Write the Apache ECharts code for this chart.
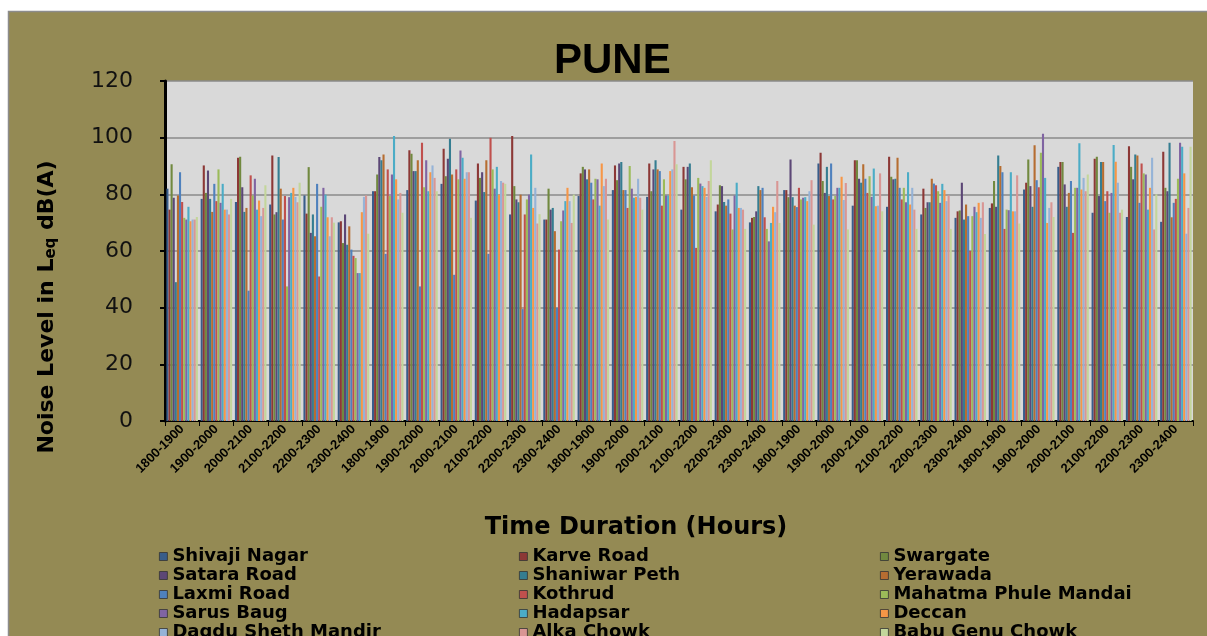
<!DOCTYPE html>
<html><head><meta charset="utf-8">
<script src="https://cdn.jsdelivr.net/npm/echarts@6/dist/echarts.min.js"></script>
<style>html,body{margin:0;padding:0;background:#fff}#c{width:1207px;height:636px}</style>
</head><body><div id="c"></div>
<script>
const timeSlots = ['1800-1900','1900-2000','2000-2100','2100-2200','2200-2300','2300-2400'];
const categories = [].concat(timeSlots, timeSlots, timeSlots, timeSlots, timeSlots);

const seriesNames = ['Shivaji Nagar','Karve Road','Swargate','Satara Road','Shaniwar Peth','Yerawada','Laxmi Road','Kothrud','Mahatma Phule Mandai','Sarus Baug','Hadapsar','Deccan','Dagdu Sheth Mandir','Alka Chowk','Babu Genu Chowk'];
const seriesColors = ['#385D8A','#8C3836','#71893F','#5C4776','#357D91','#B66D31','#4F81BD','#C0504D','#9BBB59','#8064A2','#4BACC6','#F79646','#95B3D7','#D99694','#C3D69B'];

const shivajiNagar = [82,78.4,77.3,76.4,79.6,70.1,81.1,81.5,83.7,77.8,72.9,71.1,79.4,81.5,79.1,74.6,74,70.1,81.5,90.9,76,75.6,72.9,71.7,75.2,81.7,89.7,73.5,72,70.3];
const karveRoad = [74.6,90.2,92.9,93.7,73.2,70.5,81.1,95.6,96.1,90.9,100.6,71.1,87.4,90.2,90.9,89.7,76.4,71.7,81.5,94.7,92,93.3,82,74,76.8,84.1,91.4,92.6,97,95];
const swargate = [90.6,80.5,93.3,72.9,89.6,62.8,87,94.3,86.4,85.8,82.9,82,89.7,85,81.1,85.3,83.2,72,79,84.7,92,86.2,75.2,74.3,84.7,92.3,91.4,93.3,89.7,82.3];
const sataraRoad = [78.8,88.4,82.5,73.7,66.4,72.9,93.2,88.2,92.6,87.8,78.2,74.6,88.8,90.9,88.8,89.7,82.9,74,92.3,80.5,85.5,85.3,77.2,84.1,75.6,82.9,83.5,79.4,85.3,81.1];
const shaniwarPeth = [49,78.4,73.8,93.2,72.9,62.2,92,88.2,99.6,80.8,77.2,75.2,85.3,91.4,92,90.9,77.3,82.9,79,89.7,84.1,85.5,77.2,71.1,93.7,75.6,75.6,91.4,94.1,98.2];
const yerawada = [79.6,73.8,75.2,82,65.2,68.7,94.1,92,87,92,79.9,67,88.8,81.5,88.8,82.5,76,81.5,76,79.4,90.6,92.9,85.5,76.4,90,97.3,80.5,91.4,93.7,71.9];
const laxmiRoad = [87.8,83.7,46,71.1,83.7,60.5,59,47.5,51.6,59,39.5,40,84.1,81.5,88.2,79.6,78.2,82.3,75.5,90.9,85.5,82.3,83.8,72.3,87.8,85,84.7,77.6,77,77];
const kothrud = [77.3,77.6,86.7,79.4,51,58.3,88.8,98.2,88.8,100,72.9,60.5,78.2,75.2,76,61.1,73.2,71.9,82.3,78.2,80.5,78.2,83.2,60,67.8,82.5,66.4,81.1,90.9,78.4];
const mahatmaPhuleMandai = [71.7,88.8,79.6,47.5,75.6,57.5,79.4,82.5,85.3,88.8,78.2,70.5,85.5,90,85.3,85.8,67.6,67.8,78.2,79.4,86.4,82.3,81.1,72.3,74.6,94.7,82.3,73.5,87.4,85.5];
const sarusBaug = [71.1,77,85.5,79,82.3,52.2,87,92,95.5,82,79.9,74.3,85.3,82,79.6,83.8,79.6,63.4,78.8,82.3,79.1,77.2,77,75.6,74.4,101.4,82.3,80.5,87,98.2];
const hadapsar = [75.6,83.7,74.6,80.5,79.9,52.2,100.6,81.1,92.9,89.7,94.1,77.6,76,78.8,79.6,82.9,84.1,69.9,79,82.3,89.1,87.8,83.7,73.7,87.8,85.8,98,97.4,74.6,96.8];
const deccan = [70.5,74.6,77.8,82.3,71.9,73.7,85.3,87.8,85.5,79.9,75.2,82.3,90.9,79.1,88.2,82.3,75.2,75.6,77.6,86.2,75.8,76.4,81.5,77,74,69.9,81.7,91.5,82.3,87.4];
const dagduShethMandir = [71.1,74.6,72.3,79.1,65.2,79.1,78.2,90.2,87.8,84.7,82.3,77.6,82.9,85.5,88.8,79.1,75.2,73.7,81.1,78,76,82.3,77.6,71.7,74,75.2,85.8,84.1,92.9,66.1];
const alkaChowk = [71.1,72.9,75.2,77.2,71.9,79.6,80.5,85.8,87.8,84.1,69.7,69.9,85.5,78.8,98.8,84.7,74.6,84.7,85,84,87.4,74.6,79.6,77.2,86.7,77.2,81.1,73.5,67.6,75.2];
const babuGenuChowk = [72,78.4,83.2,84.1,70,66.1,73.5,81.1,71.7,83.7,73,79.9,71.1,74.6,90.6,92,67.8,69.9,69.3,67.6,74,67.8,67.8,66,69.7,72,87,74.6,80,96.8];

const seriesValues = [shivajiNagar,karveRoad,swargate,sataraRoad,shaniwarPeth,yerawada,laxmiRoad,kothrud,mahatmaPhuleMandai,sarusBaug,hadapsar,deccan,dagduShethMandir,alkaChowk,babuGenuChowk];

const chart = echarts.init(document.getElementById('c'), null, {renderer:'canvas'});

const legendCol = (k, left) => ({
  orient: 'vertical', left: left, top: 547, height: 140, padding: 0, itemGap: 0,
  itemWidth: 8, itemHeight: 8, itemTextGap: 8, icon: 'rect',
  data: seriesNames.filter((n, i) => i % 3 === k),
  itemStyle: {borderColor: '#333', borderWidth: 0.8},
  textStyle: {fontFamily: 'DejaVu Sans', fontWeight: 'bold', fontSize: 18, color: '#000', lineHeight: 19}
});

const option = {
  animation: false,
  backgroundColor: '#948A54',
  title: [{
    text: 'PUNE', left: 554, top: 40, padding: 0,
    textStyle: {fontFamily: 'Liberation Sans', fontWeight: 'bold', fontSize: 42, color: '#000'}
  }],
  legend: [legendCol(0, 159), legendCol(1, 519), legendCol(2, 880)],
  grid: {left: 165, right: 14, top: 81, bottom: 215, show: true, backgroundColor: '#D9D9D9', borderWidth: 0},
  xAxis: {
    type: 'category', data: categories,
    name: 'Time Duration (Hours)', nameLocation: 'middle', nameGap: 95,
    nameTextStyle: {fontFamily: 'DejaVu Sans', fontWeight: 'bold', fontSize: 24, color: '#000', padding: [0, 86, 0, 0]},
    axisLine: {lineStyle: {color: '#000', width: 2}},
    axisTick: {show: true, length: 5, interval: 0, lineStyle: {color: '#000'}},
    axisLabel: {interval: 0, rotate: 45, margin: 6, fontFamily: 'Liberation Sans', fontWeight: 'bold', fontSize: 13, color: '#000'}
  },
  yAxis: {
    type: 'value', min: 0, max: 120, interval: 20,
    name: 'Noise Level in {b|L}{sub|eq}{b| dB(A)}', nameLocation: 'middle', nameRotate: 90, nameGap: 106,
    nameTextStyle: {fontFamily: 'DejaVu Sans', fontWeight: 'bold', fontSize: 22, color: '#000', lineHeight: 24,
      padding: [0, 112, 0, 0],
      rich: {
        b: {fontFamily: 'DejaVu Sans', fontWeight: 'bold', fontSize: 22, color: '#000', lineHeight: 24},
        sub: {fontFamily: 'DejaVu Sans', fontWeight: 'bold', fontSize: 15, color: '#000', lineHeight: 12, verticalAlign: 'bottom'}
      }},
    axisLine: {show: true, lineStyle: {color: '#000', width: 3}},
    axisTick: {show: true, length: 5, lineStyle: {color: '#000', width: 2}},
    axisLabel: {margin: 32, fontFamily: 'DejaVu Sans', fontSize: 22, color: '#111'},
    splitLine: {lineStyle: {color: '#8a8a8a', width: 1.5}}
  },
  graphic: [
    {type: 'rect', shape: {x: 0, y: 0, width: 1207, height: 11}, style: {fill: '#fff'}, silent: true},
    {type: 'rect', shape: {x: 0, y: 0, width: 8, height: 636}, style: {fill: '#fff'}, silent: true},
    {type: 'polyline', shape: {points: [[8.5, 636], [8.5, 11.5], [1207, 11.5]]}, style: {stroke: '#8c8c8c', fill: null, lineWidth: 1.5}, silent: true}
  ],
  series: seriesNames.map((n, i) => ({
    name: n, type: 'bar', data: seriesValues[i],
    barGap: '0%', barCategoryGap: '8%',
    itemStyle: {color: seriesColors[i]}
  }))
};
chart.setOption(option);
</script></body></html>
